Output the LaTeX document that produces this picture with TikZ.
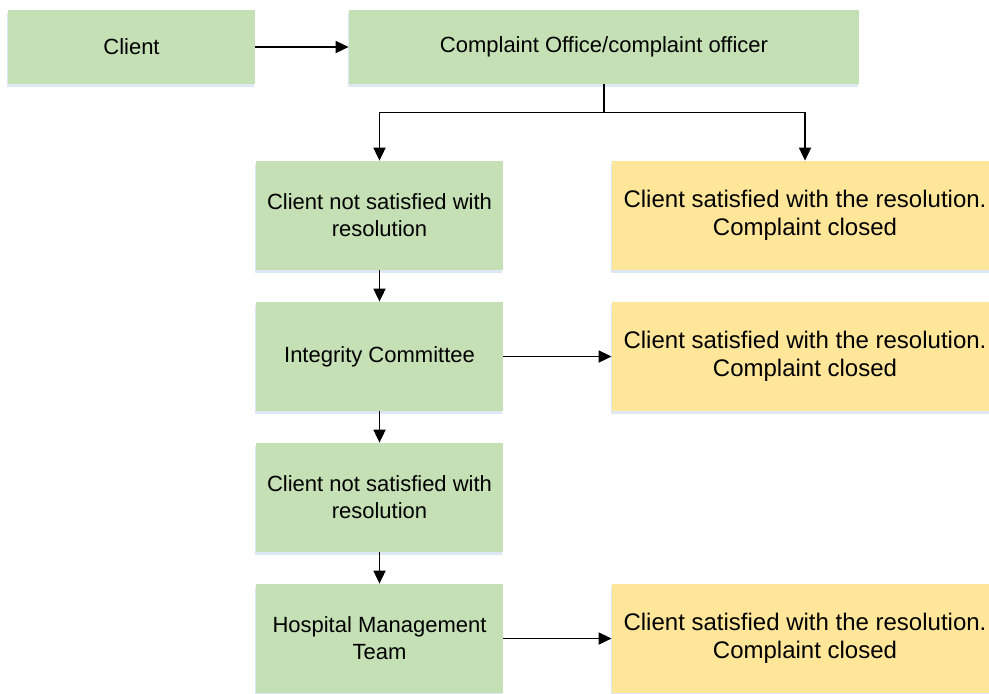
\documentclass[tikz,border=0pt]{standalone}
\usepackage{fontspec}
\setmainfont{Liberation Sans}
\usetikzlibrary{positioning, arrows.meta, shadows}

\definecolor{boxgreen}{HTML}{C5E0B4}
\definecolor{boxgold}{HTML}{FFE699}

\tikzset{
  stage/.style={fill=boxgreen, inner sep=0pt, align=center,
    minimum width=123.5pt, minimum height=54.5pt,
    font=\fontsize{11}{13.5}\selectfont,
    drop shadow={shadow xshift=-0.3pt, shadow yshift=-1.4pt, fill=cyan!40!blue, opacity=0.15}},
  closed/.style={stage, fill=boxgold, minimum width=193pt,
    font=\fontsize{12}{14}\selectfont},
  flow/.style={-{Triangle[width=6pt,length=6.5pt]}, line width=0.9pt}
}

\begin{document}
\begin{tikzpicture}[node distance=70.5pt, on grid]
  \useasboundingbox (0,0) rectangle (494.5pt,-346.5pt);
  \node[stage, minimum height=37pt] (client) at (65.75pt,-23.5pt) {Client};
  \node[stage, minimum height=37pt, minimum width=255pt] (office) [right=236.25pt of client] {Complaint Office/complaint officer};
  \node[stage] (ns1) [below left=84.25pt and 112.25pt of office] {Client not satisfied with\\resolution};
  \node[stage] (ic)  [below=of ns1] {Integrity Committee};
  \node[stage] (ns2) [below=of ic] {Client not satisfied with\\resolution};
  \node[stage] (hmt) [below=of ns2] {Hospital Management\\Team};
  \node[closed] (ok1) [right=212.75pt of ns1] {Client satisfied with the resolution.\\Complaint closed};
  \node[closed] (ok2) [right=212.75pt of ic] {Client satisfied with the resolution.\\Complaint closed};
  \node[closed] (ok3) [right=212.75pt of hmt] {Client satisfied with the resolution.\\Complaint closed};

  \coordinate (split) at ([yshift=-14pt]office.south);

  \draw[flow] (client) -- (office);
  \draw[line width=0.9pt] (office.south) -- (split);
  \draw[flow] (split) -| (ns1.north);
  \draw[flow] (split) -| (ok1.north);
  \draw[flow] (ns1) -- (ic);
  \draw[flow] (ic) -- (ns2);
  \draw[flow] (ns2) -- (hmt);
  \draw[flow] (ic) -- (ok2);
  \draw[flow] (hmt) -- (ok3);
\end{tikzpicture}
\end{document}
